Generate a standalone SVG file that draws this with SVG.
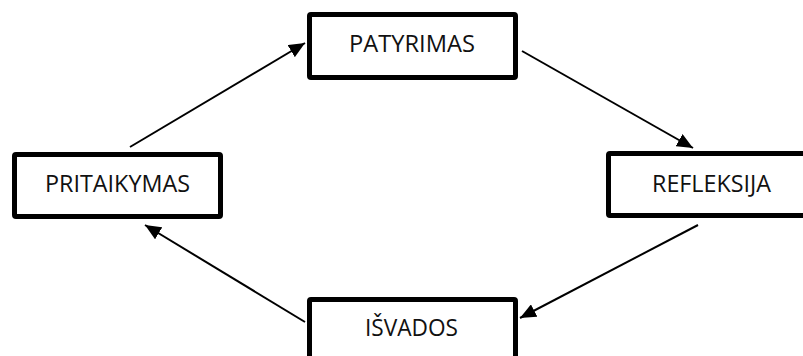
<svg xmlns="http://www.w3.org/2000/svg" width="803" height="356" viewBox="0 0 803 356">
<style>
.box{fill:#fff;stroke:#000;stroke-width:5}
.lbl{font-family:"Open Sans","Liberation Sans",sans-serif;font-size:24px;fill:#111;text-anchor:middle}
.con{stroke:#000;stroke-width:2;fill:none;marker-end:url(#ah)}
</style>
<defs>
<marker id="ah" markerUnits="userSpaceOnUse" markerWidth="18" markerHeight="14" refX="16" refY="7" orient="auto">
<path d="M0,0 L16,7 L0,14 Z" fill="#000"/>
</marker>
</defs>
<g id="connectors">
<line class="con" x1="130" y1="147" x2="305" y2="43"/>
<line class="con" x1="522" y1="51" x2="693" y2="148"/>
<line class="con" x1="698" y1="225" x2="520" y2="318"/>
<line class="con" x1="305" y1="322" x2="145" y2="225"/>
</g>
<g id="patyrimas">
<rect class="box" x="309.5" y="14.5" width="206" height="63" rx="1.5"/>
<text class="lbl" x="412" y="52" textLength="126" lengthAdjust="spacingAndGlyphs">PATYRIMAS</text>
</g>
<g id="pritaikymas">
<rect class="box" x="14.5" y="154.5" width="206" height="62" rx="1.5"/>
<text class="lbl" x="117.5" y="192" textLength="145" lengthAdjust="spacingAndGlyphs">PRITAIKYMAS</text>
</g>
<g id="refleksija">
<rect class="box" x="608.5" y="153.5" width="206" height="62" rx="1.5"/>
<text class="lbl" x="711.5" y="192" textLength="119" lengthAdjust="spacingAndGlyphs">REFLEKSIJA</text>
</g>
<g id="isvados">
<rect class="box" x="309.5" y="299.5" width="206" height="62" rx="1.5"/>
<text class="lbl" x="411.5" y="336" textLength="93" lengthAdjust="spacingAndGlyphs">IŠVADOS</text>
</g>
</svg>
